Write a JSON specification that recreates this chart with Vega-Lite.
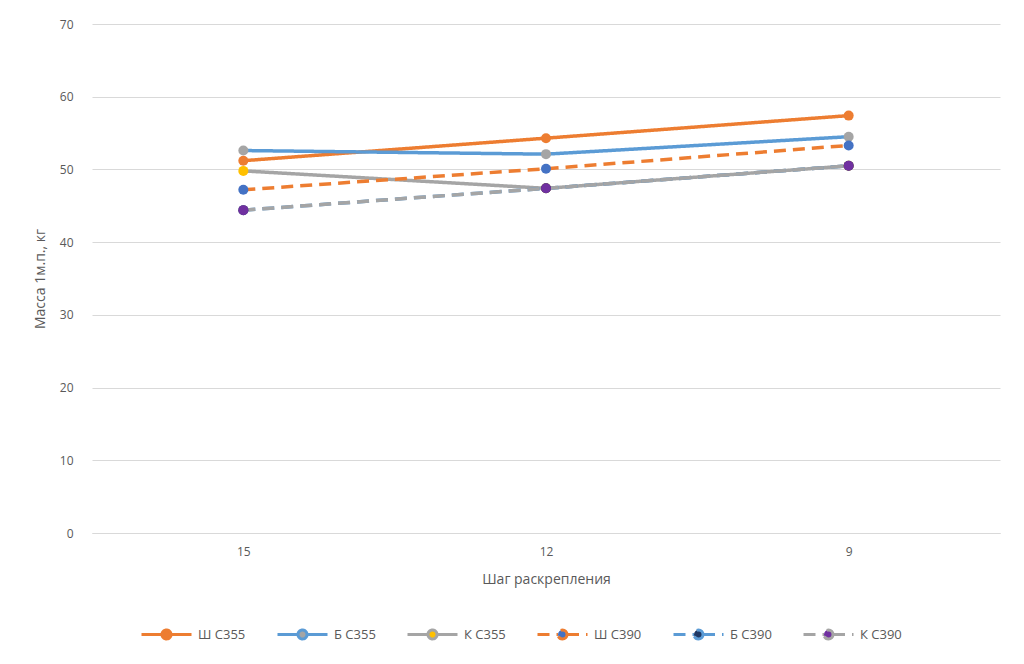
{
  "$schema": "https://vega.github.io/schema/vega-lite/v6.json",
  "autosize": "none",
  "width": 908,
  "height": 509,
  "padding": {"left": 92, "top": 24, "right": 24, "bottom": 131},
  "background": "white",
  "config": {
    "font": "Open Sans",
    "view": {"stroke": null},
    "axis": {"labelColor": "#595959", "titleColor": "#595959", "labelFontSize": 12, "titleFontSize": 14, "titleFontWeight": "normal", "labelFont": "Open Sans", "titleFont": "Open Sans"}
  },
  "data": {
    "values": [
      {"step": 15, "series": "Ш С355", "mass": 51.2},
      {"step": 12, "series": "Ш С355", "mass": 54.3},
      {"step": 9, "series": "Ш С355", "mass": 57.4},
      {"step": 15, "series": "Б С355", "mass": 52.6},
      {"step": 12, "series": "Б С355", "mass": 52.1},
      {"step": 9, "series": "Б С355", "mass": 54.5},
      {"step": 15, "series": "К С355", "mass": 49.8},
      {"step": 12, "series": "К С355", "mass": 47.4},
      {"step": 9, "series": "К С355", "mass": 50.5},
      {"step": 15, "series": "Ш С390", "mass": 47.2},
      {"step": 12, "series": "Ш С390", "mass": 50.1},
      {"step": 9, "series": "Ш С390", "mass": 53.3},
      {"step": 15, "series": "Б С390", "mass": 44.4},
      {"step": 12, "series": "Б С390", "mass": 47.4},
      {"step": 9, "series": "Б С390", "mass": 50.5},
      {"step": 15, "series": "К С390", "mass": 44.4},
      {"step": 12, "series": "К С390", "mass": 47.4},
      {"step": 9, "series": "К С390", "mass": 50.5}
    ]
  },
  "encoding": {
    "x": {
      "field": "step",
      "type": "ordinal",
      "scale": {"type": "point", "domain": [15, 12, 9], "padding": 0.5},
      "axis": {"title": "Шаг раскрепления", "labelAngle": 0, "ticks": false, "domainColor": "#D9D9D9", "domainWidth": 1, "labelPadding": 13, "titlePadding": 15, "grid": false}
    },
    "y": {
      "field": "mass",
      "type": "quantitative",
      "scale": {"domain": [0, 70], "nice": false, "zero": true},
      "axis": {"title": "Масса 1м.п., кг", "values": [0, 10, 20, 30, 40, 50, 60, 70], "ticks": false, "domain": false, "gridColor": "#D9D9D9", "gridWidth": 1, "labelPadding": 19, "titlePadding": 12}
    }
  },
  "layer": [
    {
      "mark": {"type": "line", "strokeWidth": 3.5, "strokeCap": "butt"},
      "encoding": {
        "stroke": {
          "field": "series",
          "type": "nominal",
          "scale": {"domain": ["Ш С355", "Б С355", "К С355", "Ш С390", "Б С390", "К С390"], "range": ["#ED7D31", "#5B9BD5", "#A5A5A5", "#ED7D31", "#5B9BD5", "#A5A5A5"]},
          "legend": {
            "orient": "none",
            "legendX": 48,
            "legendY": 584,
            "direction": "horizontal",
            "columns": 6,
            "title": null,
            "symbolType": "M-1,0L-0.18,0M0.18,0L1,0M0.18,0A0.18,0.18,0,1,1,-0.18,0A0.18,0.18,0,1,1,0.18,0Z",
            "symbolSize": 2500,
            "symbolStrokeWidth": 3,
            "labelFontSize": 13,
            "labelColor": "#595959",
            "labelFont": "Open Sans",
            "labelOffset": 5,
            "columnPadding": 25
          }
        },
        "strokeDash": {
          "field": "series",
          "type": "nominal",
          "scale": {"domain": ["Ш С355", "Б С355", "К С355", "Ш С390", "Б С390", "К С390"], "range": [[1, 0], [1, 0], [1, 0], [12, 7], [12, 7], [12, 7]]},
          "legend": {
            "orient": "none",
            "legendX": 48,
            "legendY": 584,
            "direction": "horizontal",
            "columns": 6,
            "title": null
          }
        },
        "order": {"field": "step", "type": "quantitative", "sort": "descending"}
      }
    },
    {
      "mark": {"type": "point", "filled": true, "opacity": 1, "size": 100, "strokeWidth": 0},
      "encoding": {
        "fill": {
          "field": "series",
          "type": "nominal",
          "scale": {"domain": ["Ш С355", "Б С355", "К С355", "Ш С390", "Б С390", "К С390"], "range": ["#ED7D31", "#A5A5A5", "#FFC000", "#4472C4", "#1F3864", "#7030A0"]},
          "legend": {
            "orient": "none",
            "legendX": 48,
            "legendY": 584,
            "direction": "horizontal",
            "columns": 6,
            "title": null
          }
        }
      }
    }
  ]
}
